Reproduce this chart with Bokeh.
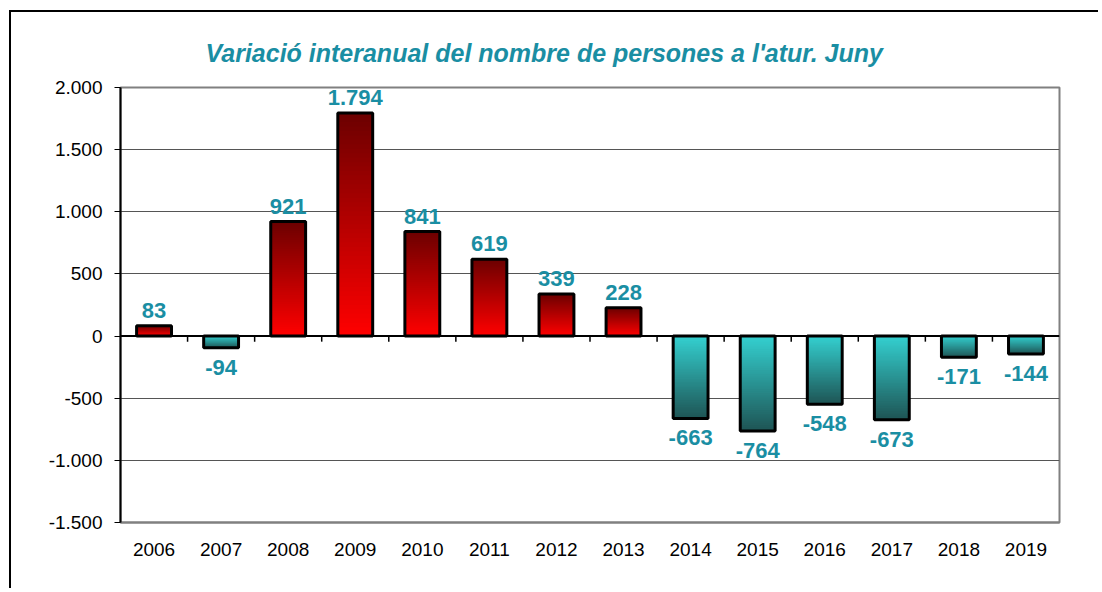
from bokeh.plotting import figure
from bokeh.models import FixedTicker, Span, Range1d, ColumnDataSource
from bokeh.embed import file_html
from bokeh.resources import INLINE
from bokeh.core.properties import value

# ---- data ----
years = ["2006", "2007", "2008", "2009", "2010", "2011", "2012",
         "2013", "2014", "2015", "2016", "2017", "2018", "2019"]
variation = [83, -94, 921, 1794, 841, 619, 339, 228,
             -663, -764, -548, -673, -171, -144]
value_labels = ["83", "-94", "921", "1.794", "841", "619", "339", "228",
                "-663", "-764", "-548", "-673", "-171", "-144"]
y_ticks = [-1500, -1000, -500, 0, 500, 1000, 1500, 2000]
y_tick_labels = ["-1.500", "-1.000", "-500", "0", "500", "1.000", "1.500", "2.000"]
title_text = "Variació interanual del nombre de persones a l'atur. Juny"

TEAL = "#1a8ea3"
FONT = "Liberation Sans"

p = figure(width=1089, height=578, output_backend="svg", toolbar_location=None,
           x_range=Range1d(-0.5, len(years) - 0.5), y_range=Range1d(-1500, 2000),
           min_border_left=109, min_border_right=41, min_border_top=75, min_border_bottom=68)
p.styles = {"border-top": "2px solid #000", "border-left": "2px solid #000",
            "margin-left": "9px", "margin-top": "10px"}

p.title.text = title_text
p.title.text_font = FONT
p.title.text_font_style = "bold italic"
p.title.text_font_size = "25px"
p.title.text_color = TEAL
p.title.align = "left"
p.title.offset = 85
p.title.standoff = 42

p.outline_line_color = "#808080"
p.outline_line_width = 2
p.background_fill_color = "white"

# grid
p.xgrid.grid_line_color = None
p.ygrid.ticker = FixedTicker(ticks=y_ticks)
p.ygrid.grid_line_color = "#555555"
p.ygrid.grid_line_width = 1

# y axis
p.yaxis.ticker = FixedTicker(ticks=y_ticks)
p.yaxis.major_label_overrides = {t: l for t, l in zip(y_ticks, y_tick_labels)}
p.yaxis.axis_line_color = "black"
p.yaxis.axis_line_width = 2
p.yaxis.major_tick_out = 6
p.yaxis.major_tick_in = 0
p.yaxis.major_tick_line_color = "black"
p.yaxis.minor_tick_line_color = None
p.yaxis.major_label_text_font = FONT
p.yaxis.major_label_text_font_size = "19px"
p.yaxis.major_label_text_color = "black"
p.yaxis.major_label_standoff = 12

# x axis
xs = list(range(len(years)))
p.xaxis.ticker = FixedTicker(ticks=xs)
p.xaxis.major_label_overrides = {i: y for i, y in zip(xs, years)}
p.xaxis.axis_line_color = "#808080"
p.xaxis.axis_line_width = 2
p.xaxis.major_tick_line_color = None
p.xaxis.minor_tick_line_color = None
p.xaxis.major_label_text_font = FONT
p.xaxis.major_label_text_font_size = "19px"
p.xaxis.major_label_text_color = "black"
p.xaxis.major_label_standoff = 14

# gradient bars: nested quads from zero outward, largest first, so no seams
half = 0.26
N = 50
gl, gr, gb, gt, gc = [], [], [], [], []
for i, v in enumerate(variation):
    for k in range(N - 1, -1, -1):
        f1 = (k + 1) / N
        fm = (k + 0.5) / N
        if v >= 0:
            c0, c1 = (255, 0, 0), (108, 0, 0)  # bottom -> top
        else:
            c0, c1 = (52, 208, 208), (30, 84, 84)  # zero -> bottom
        col = tuple(int(round(a + (b - a) * fm)) for a, b in zip(c0, c1))
        gl.append(i - half)
        gr.append(i + half)
        gb.append(0)
        gt.append(v * f1)
        gc.append("#%02x%02x%02x" % col)
p.quad(left=gl, right=gr, bottom=gb, top=gt, fill_color=gc, line_color=None)

# zero line and category boundary ticks
p.add_layout(Span(location=0, dimension="width", line_color="black", line_width=2))
bounds = [i + 0.5 for i in range(len(years) - 1)]
p.segment(x0=bounds, y0=[0] * len(bounds), x1=bounds, y1=[-45] * len(bounds),
          line_color="black", line_width=1.5)

# bar outlines
p.quad(left=[i - half for i in xs], right=[i + half for i in xs],
       bottom=[0] * len(xs), top=variation,
       fill_color=None, line_color="black", line_width=3)

# value labels
pos = ColumnDataSource(dict(x=[i for i, v in zip(xs, variation) if v >= 0],
                            y=[v for v in variation if v >= 0],
                            t=[l for l, v in zip(value_labels, variation) if v >= 0]))
neg = ColumnDataSource(dict(x=[i for i, v in zip(xs, variation) if v < 0],
                            y=[v for v in variation if v < 0],
                            t=[l for l, v in zip(value_labels, variation) if v < 0]))
p.text(x="x", y="y", text="t", source=pos, text_font=value(FONT), text_font_style="bold",
       text_font_size="22px", text_color=TEAL, text_align="center",
       text_baseline="bottom", y_offset=-8)
p.text(x="x", y="y", text="t", source=neg, text_font=value(FONT), text_font_style="bold",
       text_font_size="22px", text_color=TEAL, text_align="center",
       text_baseline="top", y_offset=12)

open("out.html", "w").write(file_html(p, INLINE))
